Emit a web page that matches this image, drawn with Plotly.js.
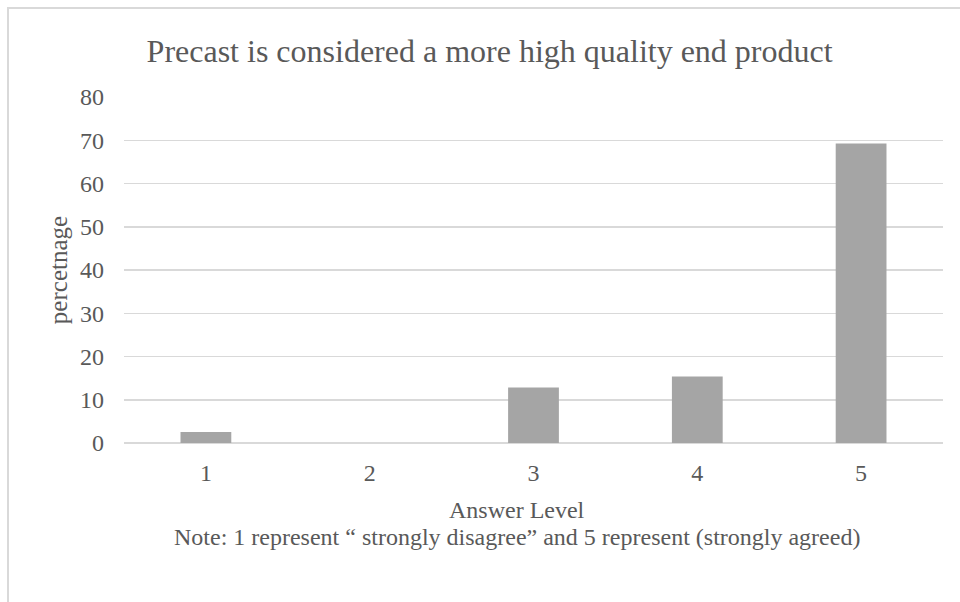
<!DOCTYPE html>
<html>
<head>
<meta charset="utf-8">
<script src="https://cdn.plot.ly/plotly-3.0.1.min.js"></script>
<style>
  html, body { margin: 0; padding: 0; background: #ffffff; }
  #wrap { position: relative; width: 960px; height: 602px; overflow: hidden; }
  #frame { position: absolute; left: 7px; top: 7px; width: 1000px; height: 700px;
           border-left: 2px solid #d9d9d9; border-top: 2px solid #d9d9d9; box-sizing: border-box; }
  #chart { position: absolute; left: 0; top: 0; width: 960px; height: 602px; }
</style>
</head>
<body>
<div id="wrap">
  <div id="frame"></div>
  <div id="chart"></div>
</div>
<script>
const categories = ["1", "2", "3", "4", "5"];
const percentages = [2.56, 0, 12.82, 15.38, 69.23];
const yTicks = [0, 10, 20, 30, 40, 50, 60, 70, 80];
const chartTitle = "Precast is considered a more high quality end product";
const xTitle = "Answer Level";
const yTitle = "percetnage";
const noteText = "Note: 1 represent \u201c strongly disagree\u201d and 5 represent (strongly agreed)";

const serif = "'Liberation Serif', 'Times New Roman', serif";
const textColor = "#595959";

const trace = {
  type: "bar",
  x: categories,
  y: percentages,
  marker: { color: "#a5a5a5" },
  width: 0.31,
  hoverinfo: "x+y"
};

const layout = {
  width: 960,
  height: 602,
  paper_bgcolor: "rgba(0,0,0,0)",
  plot_bgcolor: "rgba(0,0,0,0)",
  margin: { l: 124, r: 17, t: 97, b: 159 },
  showlegend: false,
  font: { family: serif, color: textColor, size: 24 },
  title: {
    text: chartTitle,
    font: { family: serif, size: 32, color: textColor },
    x: 0.51, xref: "container", xanchor: "center",
    y: 0.915, yref: "container", yanchor: "middle"
  },
  xaxis: {
    type: "category",
    showgrid: false,
    zeroline: false,
    showline: false,
    ticks: "",
    ticklabelstandoff: 13,
    tickfont: { family: serif, size: 24, color: textColor }
  },
  yaxis: {
    range: [0, 80],
    tickvals: yTicks,
    showgrid: true,
    gridcolor: "#d9d9d9",
    gridwidth: 1.5,
    zeroline: true,
    zerolinecolor: "#d9d9d9",
    zerolinewidth: 1.5,
    showline: false,
    ticks: "",
    ticklabelstandoff: 19,
    tickfont: { family: serif, size: 24, color: textColor },
    title: { text: yTitle, font: { family: serif, size: 25, color: textColor }, standoff: 5 }
  },
  annotations: [
    {
      text: xTitle,
      xref: "paper", yref: "paper",
      x: 0.48, y: -0.1936,
      xanchor: "center", yanchor: "middle",
      showarrow: false,
      font: { family: serif, size: 24, color: textColor }
    },
    {
      text: noteText,
      xref: "paper", yref: "paper",
      x: 0.48, y: -0.2717,
      xanchor: "center", yanchor: "middle",
      showarrow: false,
      font: { family: serif, size: 24, color: textColor }
    }
  ]
};

Plotly.newPlot("chart", [trace], layout, { displayModeBar: false, staticPlot: true });
</script>
</body>
</html>
